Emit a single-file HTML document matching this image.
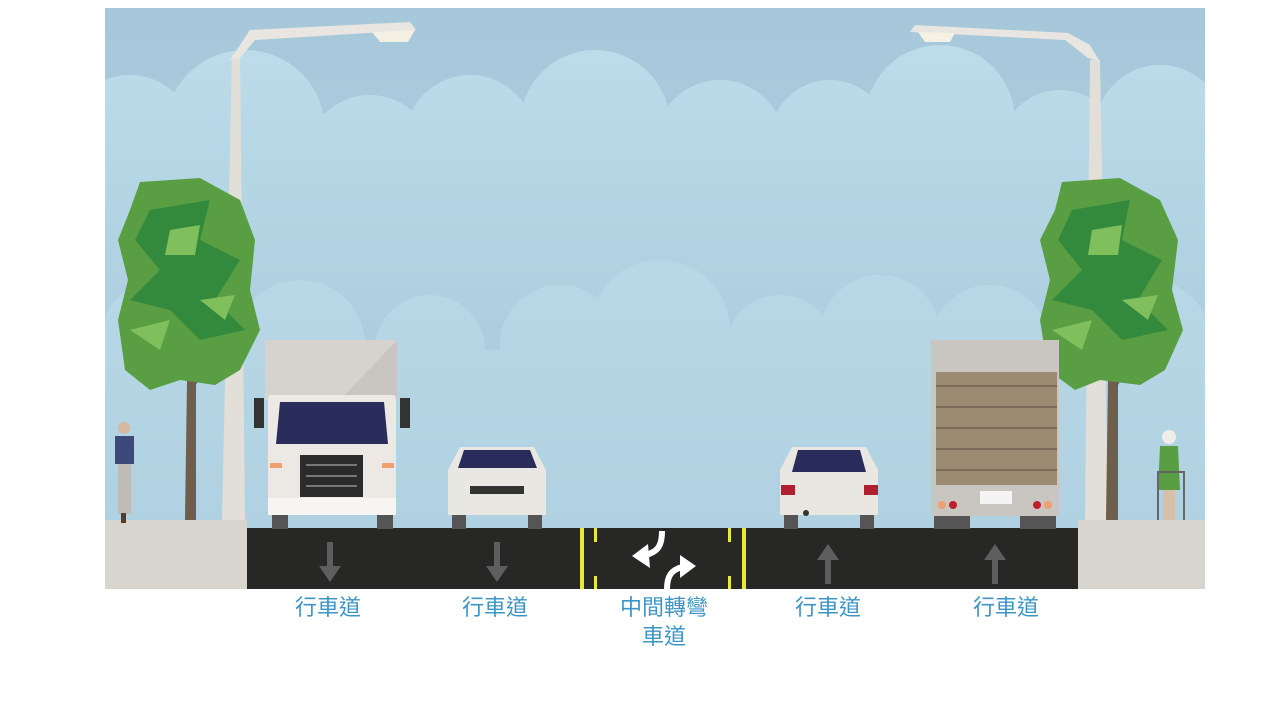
<!DOCTYPE html>
<html><head><meta charset="utf-8"><style>
html,body{margin:0;padding:0;background:#fff;width:1280px;height:720px;overflow:hidden}
.l{position:absolute;font-family:"Liberation Sans","Noto Sans CJK TC",sans-serif;font-size:22px;color:#3d95c6;text-align:center;width:160px;line-height:29px}
</style></head><body>
<svg width="1280" height="720" style="position:absolute;left:0;top:0">
<defs>
<linearGradient id="sky" x1="0" y1="0" x2="0" y2="1"><stop offset="0" stop-color="#a6c8da"/><stop offset="1" stop-color="#b2d3e3"/></linearGradient>
<linearGradient id="cl" gradientUnits="userSpaceOnUse" x1="0" y1="50" x2="0" y2="320"><stop offset="0" stop-color="#bcdcea"/><stop offset="1" stop-color="#adcfdf"/></linearGradient>
<linearGradient id="cl2" gradientUnits="userSpaceOnUse" x1="0" y1="270" x2="0" y2="530"><stop offset="0" stop-color="#b8d8e7"/><stop offset="1" stop-color="#b0d1e1"/></linearGradient>
<clipPath id="c"><rect x="105" y="8" width="1100" height="581"/></clipPath>
</defs>
<g clip-path="url(#c)">
<rect x="105" y="8" width="1100" height="581" fill="url(#sky)"/>
<g fill="url(#cl)">
<circle cx="130" cy="140" r="65"/><circle cx="245" cy="130" r="80"/><circle cx="370" cy="160" r="65"/><circle cx="470" cy="140" r="65"/>
<circle cx="595" cy="125" r="75"/><circle cx="720" cy="145" r="65"/><circle cx="830" cy="140" r="60"/><circle cx="940" cy="120" r="75"/>
<circle cx="1060" cy="150" r="60"/><circle cx="1160" cy="130" r="65"/>
<rect x="105" y="150" width="1100" height="170"/>
</g>
<g fill="url(#cl2)">
<circle cx="160" cy="340" r="60"/><circle cx="300" cy="345" r="65"/><circle cx="430" cy="350" r="55"/><circle cx="560" cy="345" r="60"/>
<circle cx="660" cy="330" r="70"/><circle cx="780" cy="350" r="55"/><circle cx="880" cy="335" r="60"/><circle cx="990" cy="345" r="60"/><circle cx="1150" cy="340" r="60"/>
<rect x="105" y="350" width="1100" height="180"/>
</g>
<polygon points="222,520 232,55 240,50 245,520" fill="#e2ded8"/>
<polygon points="230,60 250,30 410,22 416,30 255,40 240,58" fill="#e9e6e1"/>
<polygon points="372,32 415,30 408,42 380,42" fill="#f4f0e4"/>
<polygon points="1085,520 1090,60 1100,60 1108,520" fill="#e2ded8"/>
<polygon points="1100,62 1090,45 1068,33 915,25 910,32 1065,40 1088,58" fill="#e9e6e1"/>
<polygon points="918,32 955,33 950,42 925,42" fill="#f4f0e4"/>
<g>
<polygon points="185,520 187,380 155,360 160,350 190,372 212,330 218,335 196,385 196,520" fill="#6e5e4b"/>
<path d="M140,182 L200,178 L240,200 L255,240 L250,290 L260,330 L240,370 L215,385 L180,380 L150,390 L125,370 L118,320 L128,280 L118,240 L130,210 Z" fill="#5a9e44"/>
<path d="M150,210 L210,200 L200,240 L240,260 L215,300 L245,330 L200,340 L170,310 L130,300 L160,270 L135,240 Z" fill="#338a3c"/>
<path d="M170,230 L200,225 L195,255 L165,255 Z M200,300 L235,295 L225,320 Z M130,330 L170,320 L160,350 Z" fill="#7fbf5c"/>
</g>
<g>
<polygon points="1106,520 1108,380 1078,360 1083,352 1110,372 1140,335 1146,340 1118,385 1118,520" fill="#6e5e4b"/>
<path d="M1062,182 L1120,178 L1160,200 L1178,240 L1172,290 L1183,330 L1165,370 L1140,385 L1100,380 L1075,390 L1048,370 L1040,320 L1050,280 L1040,240 L1055,210 Z" fill="#5a9e44"/>
<path d="M1072,210 L1130,200 L1122,240 L1162,260 L1138,300 L1168,330 L1122,340 L1092,310 L1052,300 L1082,270 L1058,240 Z" fill="#338a3c"/>
<path d="M1092,230 L1122,225 L1118,255 L1088,255 Z M1122,300 L1158,295 L1148,320 Z M1052,330 L1092,320 L1082,350 Z" fill="#7fbf5c"/>
</g>
<rect x="105" y="520" width="142" height="69" fill="#d8d4ce"/>
<rect x="1078" y="520" width="127" height="69" fill="#d8d4ce"/>
<rect x="247" y="528" width="831" height="61" fill="#272826"/>
<g fill="#e8e838">
<rect x="580" y="528" width="4" height="61"/><rect x="594" y="528" width="3" height="14"/><rect x="594" y="576" width="3" height="13"/>
<rect x="742" y="528" width="4" height="61"/><rect x="728" y="528" width="3" height="14"/><rect x="728" y="576" width="3" height="13"/>
</g>
<g fill="#5e5e5e">
<rect x="327" y="542" width="6" height="26"/><polygon points="319,566 341,566 330,582"/>
<rect x="494" y="542" width="6" height="26"/><polygon points="486,566 508,566 497,582"/>
<rect x="825" y="558" width="6" height="26"/><polygon points="817,560 839,560 828,544"/>
<rect x="992" y="558" width="6" height="26"/><polygon points="984,560 1006,560 995,544"/>
</g>
<path d="M662,531 C662,548 656,552 646,555" stroke="#fff" stroke-width="6" fill="none"/>
<polygon points="632,556 648,544 650,568" fill="#fff"/>
<path d="M667,589 C667,575 672,570 682,567" stroke="#fff" stroke-width="6" fill="none"/>
<polygon points="696,566 680,555 680,578" fill="#fff"/>
<rect x="265" y="340" width="132" height="60" fill="#d6d3cf"/>
<polygon points="340,400 397,340 397,400" fill="#c9c6c1"/>
<rect x="272" y="515" width="16" height="14" fill="#555"/><rect x="377" y="515" width="16" height="14" fill="#555"/>
<rect x="268" y="395" width="128" height="120" rx="3" fill="#ece9e4"/>
<rect x="268" y="498" width="128" height="17" fill="#f6f5f2"/>
<polygon points="280,402 384,402 388,444 276,444" fill="#2a2d5c"/>
<rect x="300" y="455" width="63" height="42" fill="#2b2b2b"/>
<g stroke="#777" stroke-width="2"><line x1="306" y1="465" x2="357" y2="465"/><line x1="306" y1="476" x2="357" y2="476"/><line x1="306" y1="486" x2="357" y2="486"/></g>
<rect x="254" y="398" width="10" height="30" fill="#333"/><rect x="400" y="398" width="10" height="30" fill="#333"/>
<rect x="270" y="463" width="12" height="5" fill="#f0a070"/><rect x="382" y="463" width="12" height="5" fill="#f0a070"/>
<rect x="452" y="515" width="14" height="14" fill="#555"/><rect x="528" y="515" width="14" height="14" fill="#555"/>
<polygon points="460,447 534,447 546,470 546,515 448,515 448,470" fill="#e9e7e2"/>
<polygon points="464,450 530,450 537,468 458,468" fill="#2a2d5c"/>
<rect x="470" y="486" width="54" height="8" fill="#333"/>
<rect x="784" y="515" width="14" height="14" fill="#555"/><rect x="860" y="515" width="14" height="14" fill="#555"/>
<polygon points="792,447 866,447 878,470 878,515 780,515 780,470" fill="#e9e7e2"/>
<polygon points="798,450 860,450 866,472 792,472" fill="#2a2d5c"/>
<rect x="781" y="485" width="14" height="10" fill="#b02030"/><rect x="864" y="485" width="14" height="10" fill="#b02030"/>
<circle cx="806" cy="513" r="3" fill="#333"/>
<rect x="934" y="515" width="36" height="14" fill="#555"/><rect x="1020" y="515" width="36" height="14" fill="#555"/>
<rect x="931" y="340" width="128" height="176" fill="#c9c5c0"/>
<rect x="936" y="372" width="121" height="113" fill="#9b8b72"/>
<g stroke="#7a6c58" stroke-width="2"><line x1="936" y1="386" x2="1057" y2="386"/><line x1="936" y1="407" x2="1057" y2="407"/><line x1="936" y1="428" x2="1057" y2="428"/><line x1="936" y1="449" x2="1057" y2="449"/><line x1="936" y1="470" x2="1057" y2="470"/></g>
<rect x="980" y="491" width="32" height="13" fill="#f4f4f4"/>
<circle cx="942" cy="505" r="4" fill="#f0a070"/><circle cx="953" cy="505" r="4" fill="#c0202a"/><circle cx="1037" cy="505" r="4" fill="#c0202a"/><circle cx="1048" cy="505" r="4" fill="#f0a070"/>
<circle cx="124" cy="428" r="6" fill="#d8b8a0"/>
<rect x="115" y="436" width="19" height="28" fill="#3c4a7a"/>
<rect x="118" y="464" width="13" height="50" fill="#bfbcb6"/>
<rect x="121" y="513" width="5" height="10" fill="#5a3a2a"/>
<circle cx="1169" cy="437" r="7" fill="#f0eee8"/>
<polygon points="1160,446 1178,446 1180,490 1158,490" fill="#5a9e44"/>
<rect x="1163" y="490" width="12" height="30" fill="#d8c0a8"/>
<g stroke="#666" stroke-width="2" fill="none"><path d="M1158,520 L1158,472 L1184,472 L1184,520"/></g>
</g>
</svg>
<div class="l" style="left:248px;top:593px">行車道</div>
<div class="l" style="left:415px;top:593px">行車道</div>
<div class="l" style="left:584px;top:593px">中間轉彎<br>車道</div>
<div class="l" style="left:748px;top:593px">行車道</div>
<div class="l" style="left:926px;top:593px">行車道</div>
</body></html>
